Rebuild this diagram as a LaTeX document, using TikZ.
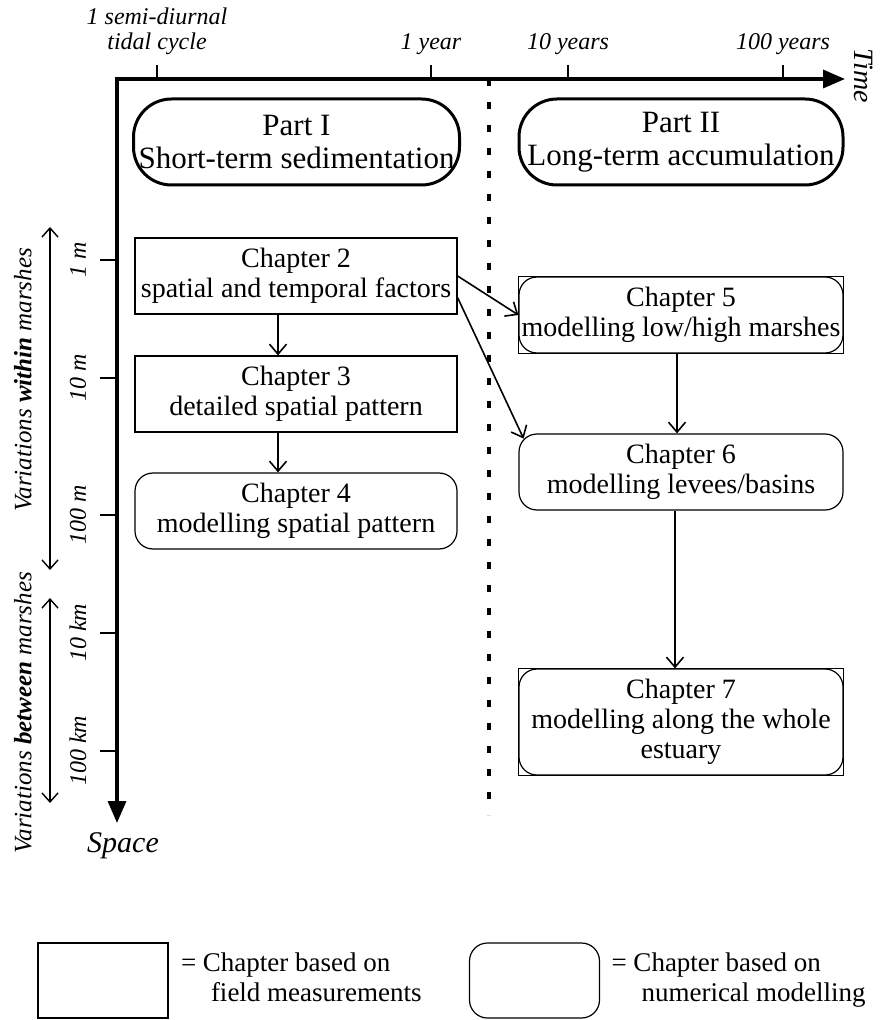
\documentclass[tikz,border=0pt]{standalone}
\usepackage{fontspec}
\setmainfont{Liberation Serif}
\usetikzlibrary{arrows.meta, positioning}

\newcommand{\chapfont}{\fontsize{14}{15}\selectfont}
\newcommand{\legfont}{\fontsize{13.5}{15}\selectfont}

\begin{document}
\begin{tikzpicture}[
    x=0.5pt, y=-0.5pt,
    fieldbox/.style={rectangle, draw=black, line width=0.6pt, inner xsep=1pt, minimum width=161pt, minimum height=38pt, align=center, font=\chapfont},
    modelbox/.style={fieldbox, rounded corners=9pt},
    partbox/.style={rectangle, draw=black, line width=1.5pt, inner xsep=1pt, rounded corners=19pt, minimum width=163pt, minimum height=43pt, align=center, font=\fontsize{15.5}{16.5}\selectfont},
    axisline/.style={line width=1.7pt},
    scaletick/.style={line width=1.4pt},
    scalelab/.style={font=\fontsize{12}{12.5}\selectfont\itshape, align=center, inner sep=0pt},
    spanlab/.style={font=\fontsize{12.5}{13}\selectfont\itshape, rotate=90, inner sep=0pt},
    legtext/.style={align=left, inner sep=0pt, font=\legfont},
    flow/.style={-{Straight Barb[length=5pt, width=8.5pt]}, line width=0.8pt},
    spanarrow/.style={{Straight Barb[length=4.5pt, width=8pt]}-{Straight Barb[length=4.5pt, width=8pt]}, line width=0.7pt},
    divider/.style={line width=1.7pt, dash pattern=on 3.5pt off 8pt}
]
    \useasboundingbox (0,0) rectangle (883,1020);

    % axes
    \coordinate (O) at (117,79);
    \coordinate (tend) at (845,79);
    \coordinate (send) at (117,823);
    \draw[axisline, {Triangle[length=11pt, width=9pt]}-{Triangle[length=11pt, width=9pt]}] (tend) -- (O) -- (send);
    \node[font=\fontsize{14}{14}\selectfont\itshape, rotate=-90] (time) at (864,76) {Time};
    \node[font=\fontsize{15}{15}\selectfont\itshape] (space) at (123,846) {Space};

    \foreach \tx/\tlab in {157/{1 semi-diurnal\\tidal cycle}, 431/{1 year}, 568/{10 years}, 783/{100 years}} {
        \draw[scaletick] (\tx,65) -- (\tx,79);
        \node[scalelab, anchor=south] (t\tx) at (\tx,55) {\tlab};
    }
    \foreach \sy/\slab in {260/1 m, 378/10 m, 515/100 m, 633/10 km, 751/100 km} {
        \draw[scaletick] (100,\sy) -- (117,\sy);
        \node[scalelab, rotate=90] (s\sy) at (78,\sy) {\slab};
    }

    % ranges
    \coordinate (wtop) at (50,227);
    \coordinate (wbot) at (50,570);
    \coordinate (btop) at (50,598);
    \coordinate (bbot) at (50,803);
    \draw[spanarrow] (wtop) -- (wbot);
    \draw[spanarrow] (btop) -- (bbot);
    \node[spanlab] (within) at (23,380) {Variations \textbf{within} marshes};
    \node[spanlab] (between) at (23,713) {Variations \textbf{between} marshes};

    % divider
    \coordinate (dtop) at (489,79);
    \coordinate (dbot) at (489,815);
    \draw[divider] (dtop) -- (dbot);

    % parts
    \node[partbox] (part1) at (296.5,142) {Part I\\Short-term sedimentation};
    \node[partbox, minimum width=162pt] (part2) at (681,142) {Part II\\Long-term accumulation};

    % chapters
    \node[fieldbox] (ch2) at (296,276) {Chapter 2\\spatial and temporal factors};
    \node[fieldbox] (ch3) at (296,394) {Chapter 3\\detailed spatial pattern};
    \node[modelbox] (ch4) at (296,511) {Chapter 4\\modelling spatial pattern};
    \node[modelbox, minimum width=162pt] (ch5) at (681,315) {Chapter 5\\modelling low/high marshes};
    \draw[line width=0.6pt] (ch5.south west) rectangle (ch5.north east);
    \node[modelbox, minimum width=162pt] (ch6) at (681,472) {Chapter 6\\modelling levees/basins};
    \node[modelbox, minimum width=162pt, minimum height=53pt] (ch7) at (681,722) {Chapter 7\\modelling along the whole\\estuary};
    \draw[line width=0.6pt] (ch7.south west) rectangle (ch7.north east);

    \draw[flow] ([xshift=-9pt]ch2.south) -- ([xshift=-9pt]ch3.north);
    \draw[flow] ([xshift=-9pt]ch3.south) -- ([xshift=-9pt]ch4.north);
    \draw[flow] (ch2.east) -- (ch5.west);
    \draw[flow] ([yshift=8.5pt]ch2.south east) -- ([xshift=2.6pt, yshift=-2.6pt]ch6.north west);
    \draw[flow] ([xshift=-2pt]ch5.south) -- ([xshift=-2pt]ch6.north);
    \draw[flow] ([xshift=-3pt]ch6.south) -- ([xshift=-3pt]ch7.north);

    % legend
    \node[fieldbox, minimum width=65pt, minimum height=37.5pt] (legfield) at (103,980.5) {};
    \node[legtext, right=6pt of legfield] (legfieldtxt) {= Chapter based on\\\hspace*{15pt}field measurements\vphantom{g}};
    \node[modelbox, minimum width=65pt, minimum height=37.5pt] (legmodel) at (534.5,980.5) {};
    \node[legtext, right=5.5pt of legmodel] (legmodeltxt) {= Chapter based on\\\hspace*{15pt}numerical modelling};
\end{tikzpicture}
\end{document}
